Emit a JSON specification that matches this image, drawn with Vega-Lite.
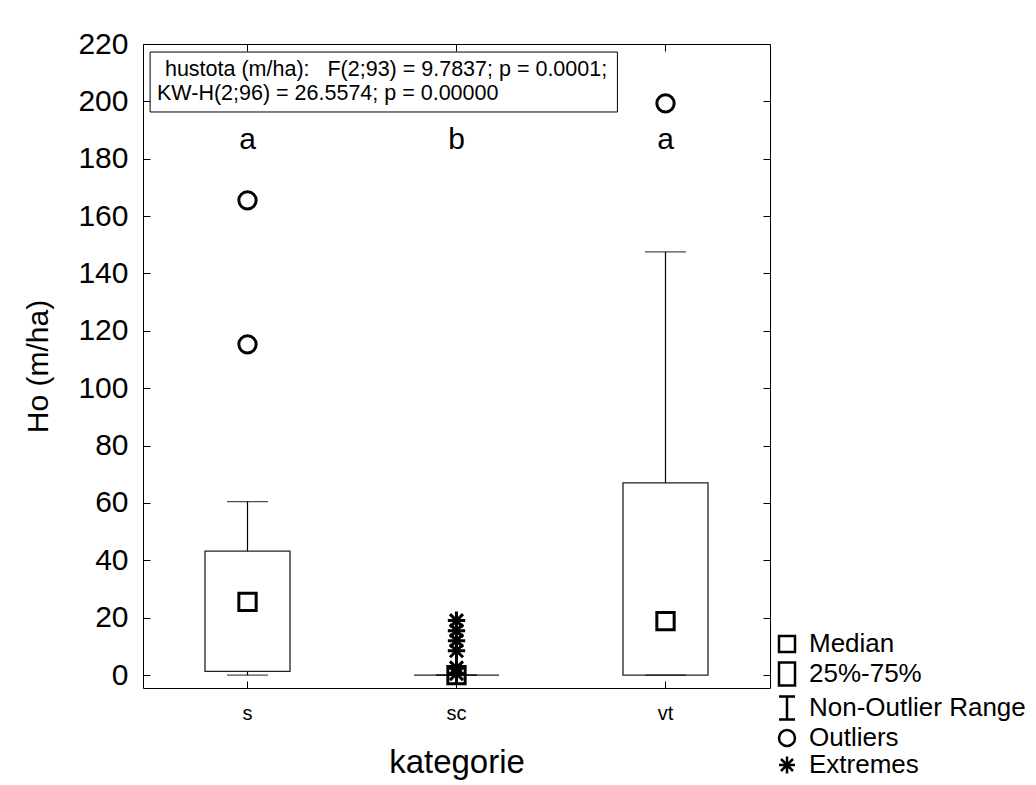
{
  "$schema": "https://vega.github.io/schema/vega-lite/v6.json",
  "autosize": "none",
  "padding": {"left": 143, "top": 44, "right": 266, "bottom": 97},
  "width": 627,
  "height": 644,
  "background": "white",
  "config": {
    "view": {"stroke": "black", "strokeWidth": 1},
    "font": "Liberation Sans",
    "axis": {"grid": false, "domain": false, "labelColor": "black", "titleColor": "black", "tickColor": "black", "labelFont": "Liberation Sans", "titleFont": "Liberation Sans", "titleFontWeight": "normal", "zindex": 1}
  },
  "datasets": {
    "boxes": [
      {"kategorie": "s", "lo": 0, "q1": 1.3, "med": 25.5, "q3": 43.2, "hi": 60.5},
      {"kategorie": "sc", "lo": 0, "q1": 0, "med": 0, "q3": 0, "hi": 0},
      {"kategorie": "vt", "lo": 0, "q1": 0, "med": 18.8, "q3": 67, "hi": 147.5}
    ],
    "points": [
      {"kategorie": "s", "value": 25.5, "kind": "Median"},
      {"kategorie": "sc", "value": 0, "kind": "Median"},
      {"kategorie": "vt", "value": 18.8, "kind": "Median"},
      {"kategorie": "s", "value": 165.5, "kind": "Outliers"},
      {"kategorie": "s", "value": 115.3, "kind": "Outliers"},
      {"kategorie": "vt", "value": 199.3, "kind": "Outliers"},
      {"kategorie": "sc", "value": 19, "kind": "Extremes"},
      {"kategorie": "sc", "value": 15.5, "kind": "Extremes"},
      {"kategorie": "sc", "value": 12, "kind": "Extremes"},
      {"kategorie": "sc", "value": 8.5, "kind": "Extremes"},
      {"kategorie": "sc", "value": 2.5, "kind": "Extremes"},
      {"kategorie": "sc", "value": 0.5, "kind": "Extremes"}
    ],
    "letters": [
      {"kategorie": "s", "y": 186.5, "label": "a"},
      {"kategorie": "sc", "y": 186.5, "label": "b"},
      {"kategorie": "vt", "y": 186.5, "label": "a"}
    ],
    "note": [
      {"x": 0.034, "x2": 2.27, "y": 196.3, "y2": 217.2}
    ],
    "noteText": [
      {"x": 0.105, "y": 210.9, "text": "hustota (m/ha):\u00a0\u00a0 F(2;93) = 9.7837; p = 0.0001;"},
      {"x": 0.067, "y": 202.6, "text": "KW-H(2;96) = 26.5574; p = 0.00000"}
    ]
  },
  "layer": [
    {
      "layer": [
        {
          "data": {"name": "boxes"},
          "layer": [
            {
              "mark": {"type": "rule", "color": "black", "strokeWidth": 1.2},
              "encoding": {
                "x": {"field": "kategorie", "type": "nominal", "scale": {"domain": ["s", "sc", "vt"], "paddingInner": 0, "paddingOuter": 0},
                      "axis": {"title": "kategorie", "labelAngle": 0, "labelFontSize": 20, "titleFontSize": 33, "labelPadding": 22, "titlePadding": 23, "tickSize": -7, "tickWidth": 1}},
                "y": {"field": "lo", "type": "quantitative", "scale": {"domain": [-4.5, 220], "nice": false, "zero": false},
                      "axis": {"title": "Ho (m/ha)", "values": [0, 20, 40, 60, 80, 100, 120, 140, 160, 180, 200, 220], "labelFontSize": 30, "titleFontSize": 30, "labelPadding": 22, "titlePadding": 24, "tickSize": -7, "tickWidth": 1}},
                "y2": {"field": "hi"}
              }
            },
            {
              "mark": {"type": "bar", "size": 85, "fill": "white", "stroke": "#222", "strokeWidth": 1.3},
              "encoding": {
                "x": {"field": "kategorie", "type": "nominal"},
                "y": {"field": "q1", "type": "quantitative"},
                "y2": {"field": "q3"}
              }
            },
            {
              "mark": {"type": "tick", "size": 41, "thickness": 1.2, "color": "black"},
              "encoding": {
                "x": {"field": "kategorie", "type": "nominal"},
                "y": {"field": "lo", "type": "quantitative"}
              }
            },
            {
              "mark": {"type": "tick", "size": 41, "thickness": 1.2, "color": "black"},
              "encoding": {
                "x": {"field": "kategorie", "type": "nominal"},
                "y": {"field": "hi", "type": "quantitative"}
              }
            }
          ]
        },
        {
          "data": {"name": "points"},
          "mark": {"type": "point", "filled": false, "stroke": "black", "strokeWidth": 3, "opacity": 1, "size": 300},
          "encoding": {
            "x": {"field": "kategorie", "type": "nominal", "axis": null},
            "y": {"field": "value", "type": "quantitative",
                  "axis": {"orient": "right", "title": null, "labels": false, "values": [0, 20, 40, 60, 80, 100, 120, 140, 160, 180, 200, 220], "tickSize": -7, "tickWidth": 1}},
            "shape": {
              "field": "kind", "type": "nominal",
              "scale": {
                "domain": ["Median", "25%-75%", "Non-Outlier Range", "Outliers", "Extremes"],
                "range": ["M-1,-1H1V1H-1Z", "M-1,-1.45H1V1.45H-1Z", "M-1,-1.45H1M0,-1.45V1.45M-1,1.45H1", "circle", "M0,-1.05V1.05M-1,0H1M-0.75,-0.75L0.75,0.75M-0.75,0.75L0.75,-0.75"]
              },
              "legend": {
                "title": null, "orient": "none", "legendX": 631, "legendY": 587,
                "labelFontSize": 26, "labelFont": "Liberation Sans", "labelColor": "black", "labelLimit": 400,
                "symbolSize": 256, "symbolStrokeColor": "black", "symbolFillColor": "transparent", "symbolStrokeWidth": 2.5,
                "rowPadding": 0, "labelOffset": 9,
                "encode": {"symbols": {"update": {"strokeWidth": {"signal": "datum.value === '25%-75%' || datum.value === 'Non-Outlier Range' ? 1.2 : 3"}, "opacity": {"value": 1}}}}
              }
            }
          }
        },
        {
          "data": {"name": "letters"},
          "mark": {"type": "text", "fontSize": 30, "font": "Liberation Sans", "color": "black", "baseline": "middle"},
          "encoding": {
            "x": {"field": "kategorie", "type": "nominal",
                  "axis": {"orient": "top", "title": null, "labels": false, "tickSize": -7, "tickWidth": 1}},
            "y": {"field": "y", "type": "quantitative", "axis": null},
            "text": {"field": "label"}
          }
        }
      ],
      "resolve": {"axis": {"x": "independent", "y": "independent"}}
    },
    {
      "layer": [
        {
          "data": {"name": "note"},
          "mark": {"type": "rect", "fill": "white", "stroke": "black", "strokeWidth": 1},
          "encoding": {
            "x": {"field": "x", "type": "quantitative", "scale": {"domain": [0, 3], "nice": false, "zero": false}, "axis": null},
            "x2": {"field": "x2"},
            "y": {"field": "y", "type": "quantitative", "axis": null},
            "y2": {"field": "y2"}
          }
        },
        {
          "data": {"name": "noteText"},
          "mark": {"type": "text", "fontSize": 21.5, "font": "Liberation Sans", "color": "black", "align": "left", "baseline": "middle"},
          "encoding": {
            "x": {"field": "x", "type": "quantitative", "axis": null},
            "y": {"field": "y", "type": "quantitative", "axis": null},
            "text": {"field": "text"}
          }
        }
      ]
    }
  ],
  "resolve": {"scale": {"x": "independent"}}
}
